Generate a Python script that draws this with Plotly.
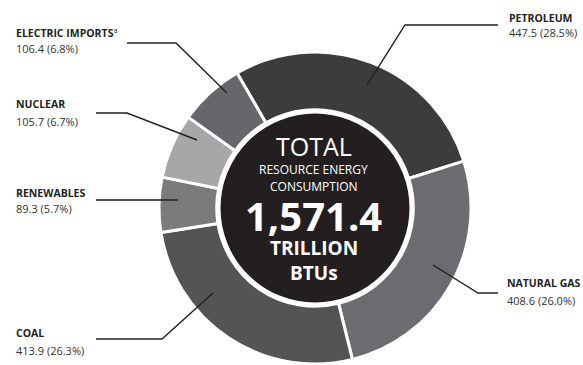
import plotly.graph_objects as go

# ---- data ----
categories = ["PETROLEUM", "NATURAL GAS", "COAL", "RENEWABLES", "NUCLEAR", "ELECTRIC IMPORTS"]
values = [447.5, 408.6, 413.9, 89.3, 105.7, 106.4]
label_suffix = ["", "", "", "", "", "<sup>a</sup>"]
total_label = "1,571.4"

colors = ["#3c3c3e", "#6c6c70", "#545456", "#7b7b7e", "#a7a7a9", "#67676b"]

W, H = 583, 365
cx, cy, R = 315, 208, 156


def px(x, y):
    return x / W, 1 - y / H


total = sum(values)

fig = go.Figure()
fig.add_trace(go.Pie(
    labels=categories,
    values=values,
    sort=False,
    direction="clockwise",
    rotation=-30,
    hole=0.63,
    marker=dict(colors=colors, line=dict(color="white", width=3)),
    textinfo="none",
    hoverinfo="label+value+percent",
    showlegend=False,
    domain=dict(x=[(cx - R) / W, (cx + R) / W], y=[(H - cy - R) / H, (H - cy + R) / H]),
))

shapes = []
# central dark disc
r_in = 96
x0, y1 = px(cx - r_in, cy - r_in)
x1, y0 = px(cx + r_in, cy + r_in)
shapes.append(dict(type="circle", xref="paper", yref="paper", x0=x0, x1=x1, y0=y0, y1=y1,
                   fillcolor="#231f20", line=dict(color="white", width=3), layer="above"))

# leader lines (pixel layout positions) per category
leaders = {
    "PETROLEUM": [(367, 85), (405, 25), (498, 25)],
    "NATURAL GAS": [(433, 265), (478, 293), (498, 293)],
    "COAL": [(213, 293), (162, 339), (96, 339)],
    "RENEWABLES": [(178, 200), (96, 200)],
    "NUCLEAR": [(197, 140), (127, 113), (96, 113)],
    "ELECTRIC IMPORTS": [(227, 93), (176, 43), (127, 43)],
}
for pts in leaders.values():
    path = ""
    for i, (x, y) in enumerate(pts):
        u, v = px(x, y)
        path += ("M" if i == 0 else " L") + f" {u:.5f},{v:.5f}"
    shapes.append(dict(type="path", xref="paper", yref="paper", path=path,
                       line=dict(color="#231f20", width=1.4), layer="above"))

# label positions (x left, y of name line, y of value line)
label_pos = {
    "PETROLEUM": (507, 18, 33),
    "NATURAL GAS": (505, 283, 300),
    "COAL": (14, 333, 350),
    "RENEWABLES": (14, 193, 208),
    "NUCLEAR": (14, 104, 121),
    "ELECTRIC IMPORTS": (14, 33, 48),
}

FONT = "Open Sans"
annotations = []
for cat, v, suf in zip(categories, values, label_suffix):
    lx, ny, vy = label_pos[cat]
    u, t = px(lx, ny)
    annotations.append(dict(x=u, y=t, xref="paper", yref="paper", xanchor="left", yanchor="middle",
                            text=f"<b>{cat}</b>{suf}", showarrow=False,
                            font=dict(family=FONT, size=10.5, color="#231f20")))
    u, t = px(lx, vy)
    annotations.append(dict(x=u, y=t, xref="paper", yref="paper", xanchor="left", yanchor="middle",
                            text=f"{v:.1f} ({v / total * 100:.1f}%)", showarrow=False,
                            font=dict(family=FONT, size=11, color="#333333")))

center_lines = [
    ("TOTAL", 146, 25, False),
    ("RESOURCE ENERGY", 169, 12, False),
    ("CONSUMPTION", 186, 12, False),
    (total_label, 215, 40, True),
    ("TRILLION", 248, 19, True),
    ("BTUs", 273, 19, True),
]
for txt, y, size, bold in center_lines:
    u, t = px(cx - 1, y)
    annotations.append(dict(x=u, y=t, xref="paper", yref="paper", xanchor="center", yanchor="middle",
                            text=f"<b>{txt}</b>" if bold else txt, showarrow=False,
                            font=dict(family=FONT, size=size, color="white")))

fig.update_layout(
    width=W, height=H,
    margin=dict(l=0, r=0, t=0, b=0),
    paper_bgcolor="white", plot_bgcolor="white",
    shapes=shapes, annotations=annotations,
)

fig.write_html("out.html")
